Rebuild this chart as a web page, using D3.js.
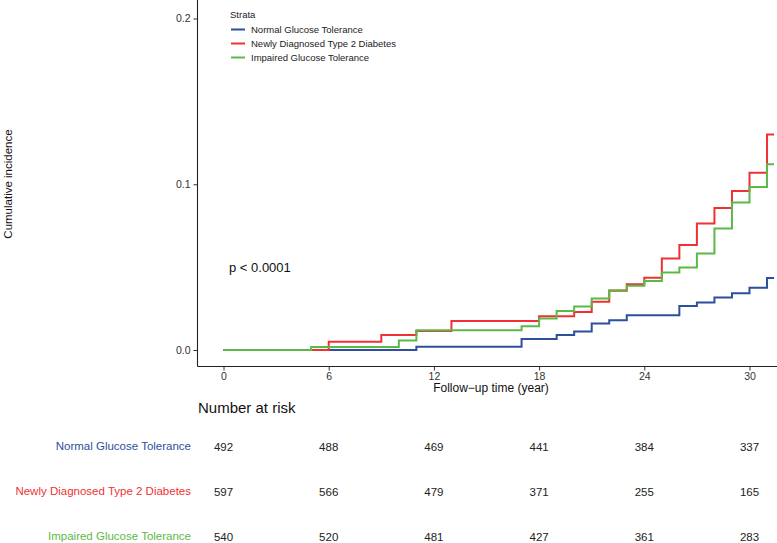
<!DOCTYPE html>
<html>
<head>
<meta charset="utf-8">
<script src="https://cdn.jsdelivr.net/npm/d3@7"></script>
<style>
  body { margin: 0; background: #fff; }
  text { font-family: "Liberation Sans", Arial, sans-serif; }
</style>
</head>
<body>
<div id="chart"></div>
<script>
var svgWidth = 777;
var svgHeight = 543;

// strata and colours
var strata = ["Normal Glucose Tolerance", "Newly Diagnosed Type 2 Diabetes", "Impaired Glucose Tolerance"];
var colors = ["#2d4f9c", "#ef3134", "#5cb947"];

// step curves: time of each step (years) and cumulative incidence after it
var normalTimes = [0, 11, 17, 19, 20, 21, 22, 23, 26, 27, 28, 29, 30, 31];
var normalValues = [0, 0.002, 0.0066, 0.009, 0.0112, 0.016, 0.018, 0.0209, 0.0265, 0.0287, 0.0317, 0.0343, 0.0375, 0.0434];

var diabetesTimes = [0, 6, 9, 11, 13, 18, 20, 21, 22, 23, 24, 25, 26, 27, 28, 29, 30, 31];
var diabetesValues = [0, 0.005, 0.009, 0.0114, 0.0175, 0.0203, 0.0229, 0.0291, 0.0357, 0.0396, 0.0436, 0.0552, 0.0633, 0.0763, 0.0857, 0.096, 0.107, 0.130];

var impairedTimes = [0, 5, 10, 11, 17, 18, 19, 20, 21, 22, 23, 24, 25, 26, 27, 28, 29, 30, 31];
var impairedValues = [0, 0.0018, 0.0058, 0.0119, 0.0143, 0.019, 0.0235, 0.0263, 0.0311, 0.0361, 0.0387, 0.0416, 0.0468, 0.0498, 0.0582, 0.0733, 0.089, 0.0984, 0.112];

var lastTime = 31.4;

// number at risk table
var riskTimes = [0, 6, 12, 18, 24, 30];
var normalRisk = [492, 488, 469, 441, 384, 337];
var diabetesRisk = [597, 566, 479, 371, 255, 165];
var impairedRisk = [540, 520, 481, 427, 361, 283];

var yTicks = [0, 0.1, 0.2];

var series = [
  {name: strata[0], times: normalTimes, values: normalValues, risk: normalRisk, color: colors[0]},
  {name: strata[1], times: diabetesTimes, values: diabetesValues, risk: diabetesRisk, color: colors[1]},
  {name: strata[2], times: impairedTimes, values: impairedValues, risk: impairedRisk, color: colors[2]}
];

var svg = d3.select("#chart")
  .append("svg")
  .attr("width", svgWidth)
  .attr("height", svgHeight);

// scales
var xScale = d3.scaleLinear().domain([0, 30]).range([223.5, 749.5]);
var yScale = d3.scaleLinear().domain([0, 0.2]).range([350, 18.5]);

var axisLeftX = 197.5;
var axisBottomY = 366.5;

// axes
var yAxis = svg.append("g")
  .attr("transform", `translate(${axisLeftX},0)`)
  .call(d3.axisLeft(yScale).tickValues(yTicks).tickFormat(d3.format(".1f")).tickSize(4).tickSizeOuter(0));
yAxis.select(".domain").attr("d", `M0,0V${axisBottomY}`);

var xAxis = svg.append("g")
  .attr("transform", `translate(0,${axisBottomY})`)
  .call(d3.axisBottom(xScale).tickValues(riskTimes).tickSize(4).tickSizeOuter(0));
xAxis.select(".domain").attr("d", `M${axisLeftX},0H${svgWidth}`);

svg.selectAll(".domain").attr("stroke", "#222").attr("stroke-width", 1.1);
svg.selectAll(".tick line").attr("stroke", "#333");
svg.selectAll(".tick text")
  .attr("fill", "#333")
  .attr("font-size", "10.5px")
  .attr("font-family", "Liberation Sans, Arial, sans-serif");
xAxis.selectAll(".tick text").attr("dy", "0.6em");

// axis titles
svg.append("text")
  .attr("transform", `translate(12,184)rotate(-90)`)
  .attr("text-anchor", "middle")
  .attr("font-size", "11.5px")
  .attr("fill", "#111")
  .text("Cumulative incidence");

svg.append("text")
  .attr("x", 491)
  .attr("y", 392)
  .attr("text-anchor", "middle")
  .attr("font-size", "12px")
  .attr("fill", "#111")
  .text("Follow\u2212up time (year)");

// step lines
var line = d3.line()
  .curve(d3.curveStepAfter)
  .x(d => xScale(d[0]))
  .y(d => yScale(d[1]));

svg.append("g").selectAll("path")
  .data(series)
  .enter()
  .append("path")
  .attr("fill", "none")
  .attr("stroke", d => d.color)
  .attr("stroke-width", 2)
  .attr("d", d => {
    var pts = d.times.map((t, i) => [t, d.values[i]]);
    pts.push([lastTime, d.values[d.values.length - 1]]);
    return line(pts);
  });

// p value
svg.append("text")
  .attr("x", 229)
  .attr("y", 272)
  .attr("font-size", "13px")
  .attr("fill", "#111")
  .text("p < 0.0001");

// legend
var legend = svg.append("g");
legend.append("text")
  .attr("x", 230)
  .attr("y", 18)
  .attr("font-size", "9.5px")
  .attr("fill", "#222")
  .text("Strata");

var legendRows = legend.selectAll(".leg")
  .data(series)
  .enter()
  .append("g")
  .attr("transform", (d, i) => `translate(0,${29.5 + i * 14})`);
legendRows.append("line")
  .attr("x1", 231).attr("x2", 245)
  .attr("stroke", d => d.color)
  .attr("stroke-width", 2);
legendRows.append("text")
  .attr("x", 251)
  .attr("y", 3.5)
  .attr("font-size", "9.5px")
  .attr("fill", "#222")
  .text(d => d.name);

// number at risk
svg.append("text")
  .attr("x", 198)
  .attr("y", 413)
  .attr("font-size", "15px")
  .attr("fill", "#111")
  .text("Number at risk");

var rowY = [446, 491, 536];
var rows = svg.selectAll(".riskrow")
  .data(series)
  .enter()
  .append("g")
  .attr("transform", (d, i) => `translate(0,${rowY[i]})`);

rows.append("text")
  .attr("x", 191)
  .attr("y", 4)
  .attr("text-anchor", "end")
  .attr("font-size", "11.5px")
  .attr("fill", d => d.color)
  .text(d => d.name);

rows.selectAll(".n")
  .data(d => d.risk)
  .enter()
  .append("text")
  .attr("x", (d, i) => xScale(riskTimes[i]))
  .attr("y", 4.5)
  .attr("text-anchor", "middle")
  .attr("font-size", "11.5px")
  .attr("fill", "#222")
  .text(d => d);
</script>
</body>
</html>
